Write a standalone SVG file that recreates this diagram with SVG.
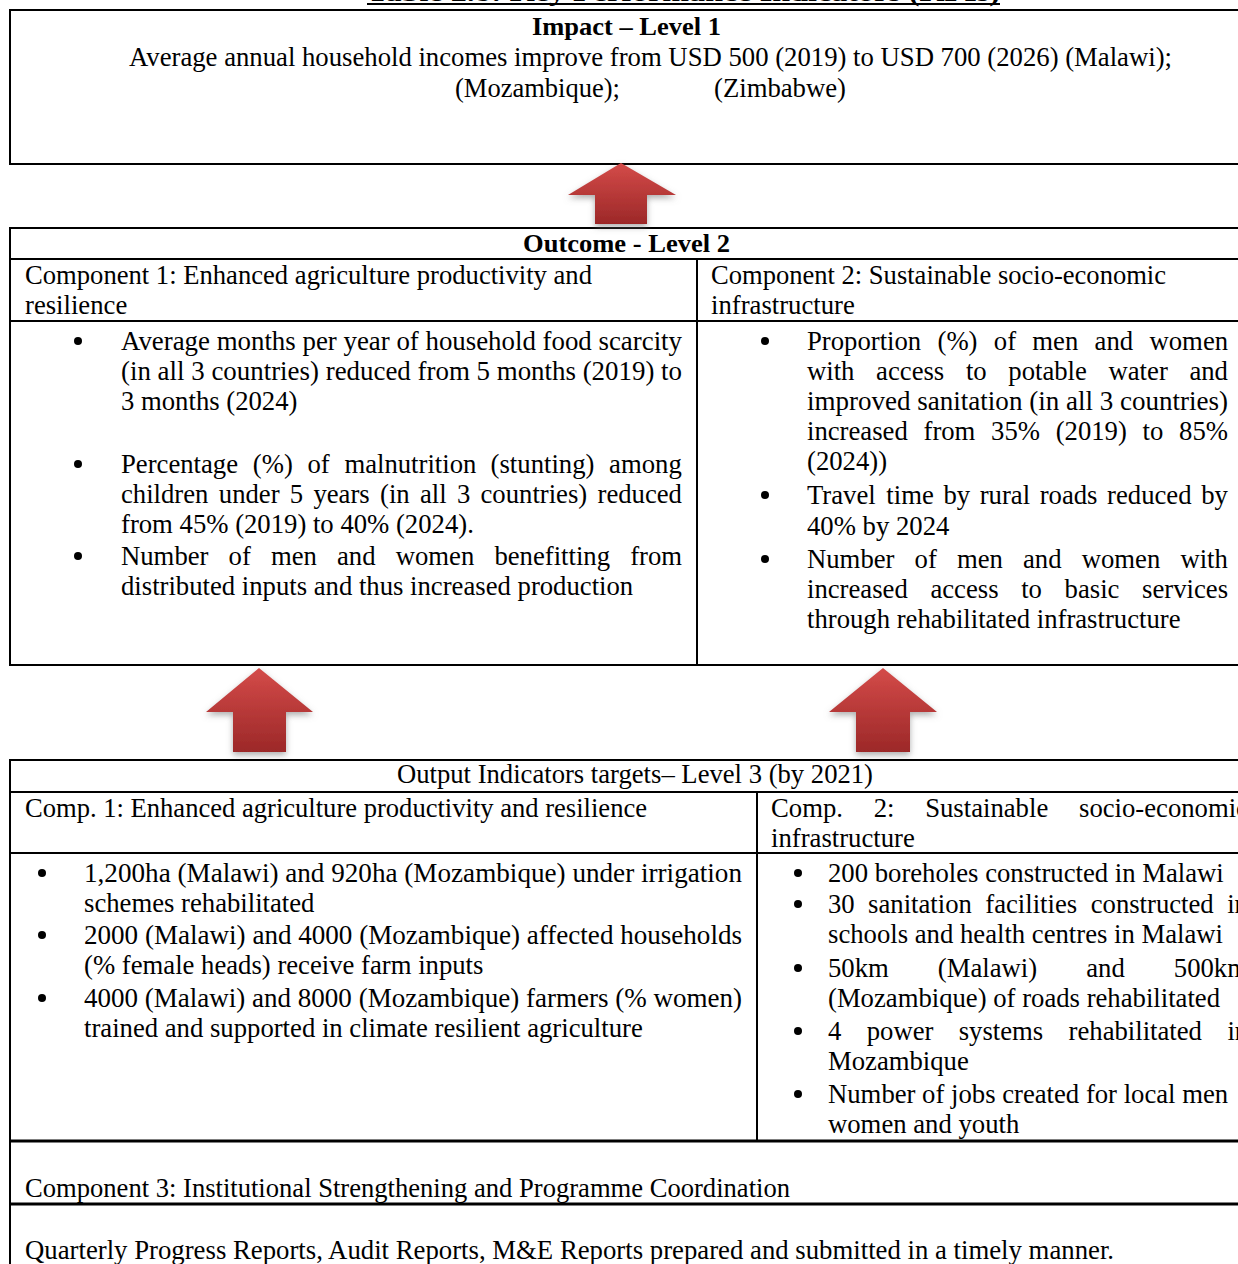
<svg xmlns="http://www.w3.org/2000/svg" width="1238" height="1264" viewBox="0 0 1238 1264">
<style>
.t{font-family:"Liberation Serif","Times New Roman",serif;font-size:26.7px;fill:#000}
.h{font-size:26px}
.b{font-weight:bold}
.bu{fill:#000}
.ln{stroke:#000;stroke-width:2;fill:none}
.lt{stroke:#000;stroke-width:3;fill:none}
.arr{fill:url(#ag);filter:url(#sh)}
</style>
<defs>
<linearGradient id="ag" x1="0" y1="0" x2="0" y2="1">
<stop offset="0" stop-color="#d44b49"/>
<stop offset="1" stop-color="#9c2828"/>
</linearGradient>
<filter id="sh" x="-30%" y="-30%" width="160%" height="160%">
<feDropShadow dx="0" dy="3" stdDeviation="3" flood-color="#777" flood-opacity="0.6"/>
</filter>
</defs>
<rect width="1238" height="1264" fill="#fff"/>

<g id="title">
<text class="t h b" x="367" y="1" textLength="633" lengthAdjust="spacingAndGlyphs">Table 2.8: Key Performance Indicators (KPIs)</text>
<line class="ln" x1="367" y1="4" x2="1000" y2="4" stroke-width="2.5"/>
</g>

<g id="impact">
<line class="ln" x1="9" y1="10" x2="1238" y2="10" stroke-width="2.5"/>
<line class="ln" x1="10" y1="10" x2="10" y2="165"/>
<line class="ln" x1="9" y1="164" x2="1238" y2="164"/>
<text class="t h b" x="532" y="35" textLength="189" lengthAdjust="spacingAndGlyphs">Impact – Level 1</text>
<text class="t" x="129" y="66" textLength="1043" lengthAdjust="spacingAndGlyphs">Average annual household incomes improve from USD 500 (2019) to USD 700 (2026) (Malawi);</text>
<text class="t" x="455" y="97" textLength="165" lengthAdjust="spacingAndGlyphs">(Mozambique);</text>
<text class="t" x="714" y="97" textLength="132" lengthAdjust="spacingAndGlyphs">(Zimbabwe)</text>
</g>

<g id="outcome">
<line class="ln" x1="9" y1="228" x2="1238" y2="228"/>
<line class="ln" x1="10" y1="228" x2="10" y2="666"/>
<line class="ln" x1="9" y1="259" x2="1238" y2="259"/>
<line class="ln" x1="697" y1="259" x2="697" y2="666"/>
<line class="ln" x1="9" y1="321" x2="1238" y2="321"/>
<line class="ln" x1="9" y1="665" x2="1238" y2="665"/>
<text class="t h b" x="523" y="252" textLength="207" lengthAdjust="spacingAndGlyphs">Outcome - Level 2</text>
</g>

<g id="outcome-comp1">
<text class="t" x="25" y="284" textLength="567" lengthAdjust="spacingAndGlyphs">Component 1: Enhanced agriculture productivity and</text>
<text class="t" x="25" y="314">resilience</text>
<circle class="bu" cx="78" cy="341" r="4"/>
<text class="t" x="121" y="350" textLength="561" lengthAdjust="spacingAndGlyphs">Average months per year of household food scarcity</text>
<text class="t" x="121" y="380" textLength="561" lengthAdjust="spacingAndGlyphs">(in all 3 countries) reduced from 5 months (2019) to</text>
<text class="t" x="121" y="410">3 months (2024)</text>
<circle class="bu" cx="78" cy="464" r="4"/>
<text class="t" y="473"><tspan x="121">Percentage</tspan> <tspan x="252.8">(%)</tspan> <tspan x="307.5">of</tspan> <tspan x="344.4">malnutrition</tspan> <tspan x="490.6">(stunting)</tspan> <tspan x="609.1">among</tspan></text>
<text class="t" y="503"><tspan x="121">children</tspan> <tspan x="218.8">under</tspan> <tspan x="289.8">5</tspan> <tspan x="313.4">years</tspan> <tspan x="380">(in</tspan> <tspan x="419.9">all</tspan> <tspan x="456.9">3</tspan> <tspan x="480.5">countries)</tspan> <tspan x="597.5">reduced</tspan></text>
<text class="t" x="121" y="533">from 45% (2019) to 40% (2024).</text>
<circle class="bu" cx="78" cy="556" r="4"/>
<text class="t" y="565"><tspan x="121">Number</tspan> <tspan x="228.6">of</tspan> <tspan x="270.9">men</tspan> <tspan x="337">and</tspan> <tspan x="395.7">women</tspan> <tspan x="494.4">benefitting</tspan> <tspan x="630.2">from</tspan></text>
<text class="t" x="121" y="595">distributed inputs and thus increased production</text>
</g>

<g id="outcome-comp2">
<text class="t" x="711" y="284" textLength="455" lengthAdjust="spacingAndGlyphs">Component 2: Sustainable socio-economic</text>
<text class="t" x="711" y="314">infrastructure</text>
<circle class="bu" cx="765" cy="341" r="4"/>
<text class="t" y="350"><tspan x="807">Proportion</tspan> <tspan x="937.5">(%)</tspan> <tspan x="993.8">of</tspan> <tspan x="1032.3">men</tspan> <tspan x="1094.6">and</tspan> <tspan x="1149.5">women</tspan></text>
<text class="t" y="380"><tspan x="807">with</tspan> <tspan x="876.1">access</tspan> <tspan x="965.9">to</tspan> <tspan x="1008.3">potable</tspan> <tspan x="1108.5">water</tspan> <tspan x="1189.4">and</tspan></text>
<text class="t" x="807" y="410" textLength="421" lengthAdjust="spacingAndGlyphs">improved sanitation (in all 3 countries)</text>
<text class="t" y="440"><tspan x="807">increased</tspan> <tspan x="923.5">from</tspan> <tspan x="991.1">35%</tspan> <tspan x="1055.7">(2019)</tspan> <tspan x="1142.6">to</tspan> <tspan x="1179.1">85%</tspan></text>
<text class="t" x="807" y="470">(2024))</text>
<circle class="bu" cx="765" cy="495" r="4"/>
<text class="t" y="504"><tspan x="807">Travel</tspan> <tspan x="886.3">time</tspan> <tspan x="943.4">by</tspan> <tspan x="979.7">rural</tspan> <tspan x="1039.7">roads</tspan> <tspan x="1107.1">reduced</tspan> <tspan x="1201.2">by</tspan></text>
<text class="t" x="807" y="535">40% by 2024</text>
<circle class="bu" cx="765" cy="559" r="4"/>
<text class="t" y="568"><tspan x="807">Number</tspan> <tspan x="914.6">of</tspan> <tspan x="956.9">men</tspan> <tspan x="1023">and</tspan> <tspan x="1081.7">women</tspan> <tspan x="1180.4">with</tspan></text>
<text class="t" y="598"><tspan x="807">increased</tspan> <tspan x="930.4">access</tspan> <tspan x="1021.2">to</tspan> <tspan x="1064.6">basic</tspan> <tspan x="1142.1">services</tspan></text>
<text class="t" x="807" y="628">through rehabilitated infrastructure</text>
</g>

<g id="connectors">
<polygon class="arr" points="621,163 676,195 647,195 647,224 595,224 595,195 568,195"/>
<polygon class="arr" points="259,668 313,712 286,712 286,752 233,752 233,712 206,712"/>
<polygon class="arr" points="883,668 937,712 910,712 910,752 856,752 856,712 829,712"/>
</g>

<g id="output">
<line class="ln" x1="9" y1="760" x2="1238" y2="760"/>
<line class="ln" x1="10" y1="760" x2="10" y2="1264"/>
<line class="ln" x1="9" y1="792" x2="1238" y2="792"/>
<line class="ln" x1="757" y1="792" x2="757" y2="1141"/>
<line class="ln" x1="9" y1="853" x2="1238" y2="853"/>
<text class="t" x="397" y="783" textLength="476" lengthAdjust="spacingAndGlyphs">Output Indicators targets– Level 3 (by 2021)</text>
</g>

<g id="output-comp1">
<text class="t" x="25" y="817" textLength="622" lengthAdjust="spacingAndGlyphs">Comp. 1: Enhanced agriculture productivity and resilience</text>
<circle class="bu" cx="42" cy="873" r="4"/>
<text class="t" x="84" y="882" textLength="658" lengthAdjust="spacingAndGlyphs">1,200ha (Malawi) and 920ha (Mozambique) under irrigation</text>
<text class="t" x="84" y="912">schemes rehabilitated</text>
<circle class="bu" cx="42" cy="935" r="4"/>
<text class="t" x="84" y="944" textLength="658" lengthAdjust="spacingAndGlyphs">2000 (Malawi) and 4000 (Mozambique) affected households</text>
<text class="t" x="84" y="974">(% female heads) receive farm inputs</text>
<circle class="bu" cx="42" cy="998" r="4"/>
<text class="t" x="84" y="1007" textLength="658" lengthAdjust="spacingAndGlyphs">4000 (Malawi) and 8000 (Mozambique) farmers (% women)</text>
<text class="t" x="84" y="1037">trained and supported in climate resilient agriculture</text>
</g>

<g id="output-comp2">
<text class="t" y="817"><tspan x="771">Comp.</tspan> <tspan x="873.7">2:</tspan> <tspan x="925.2">Sustainable</tspan> <tspan x="1079">socio-economic</tspan></text>
<text class="t" x="771" y="847">infrastructure</text>
<circle class="bu" cx="798" cy="873" r="4"/>
<text class="t" x="828" y="882">200 boreholes constructed in Malawi</text>
<circle class="bu" cx="798" cy="904" r="4"/>
<text class="t" y="913"><tspan x="828">30</tspan> <tspan x="868.1">sanitation</tspan> <tspan x="985.3">facilities</tspan> <tspan x="1090.7">constructed</tspan> <tspan x="1227.2">in</tspan></text>
<text class="t" x="828" y="943">schools and health centres in Malawi</text>
<circle class="bu" cx="798" cy="968" r="4"/>
<text class="t" y="977"><tspan x="828">50km</tspan> <tspan x="937.8">(Malawi)</tspan> <tspan x="1086.2">and</tspan> <tspan x="1173.8">500km</tspan></text>
<text class="t" x="828" y="1007">(Mozambique) of roads rehabilitated</text>
<circle class="bu" cx="798" cy="1031" r="4"/>
<text class="t" y="1040"><tspan x="828">4</tspan> <tspan x="866.7">power</tspan> <tspan x="958.7">systems</tspan> <tspan x="1068.6">rehabilitated</tspan> <tspan x="1227.4">in</tspan></text>
<text class="t" x="828" y="1070">Mozambique</text>
<circle class="bu" cx="798" cy="1094" r="4"/>
<text class="t" x="828" y="1103">Number of jobs created for local men</text>
<text class="t" x="828" y="1133">women and youth</text>
</g>

<g id="component3">
<line class="lt" x1="9" y1="1141" x2="1238" y2="1141"/>
<text class="t" x="25" y="1197" textLength="765" lengthAdjust="spacingAndGlyphs">Component 3: Institutional Strengthening and Programme Coordination</text>
<line class="lt" x1="9" y1="1204" x2="1238" y2="1204"/>
<text class="t" x="25" y="1259" textLength="1089" lengthAdjust="spacingAndGlyphs">Quarterly Progress Reports, Audit Reports, M&amp;E Reports prepared and submitted in a timely manner.</text>
</g>
</svg>
